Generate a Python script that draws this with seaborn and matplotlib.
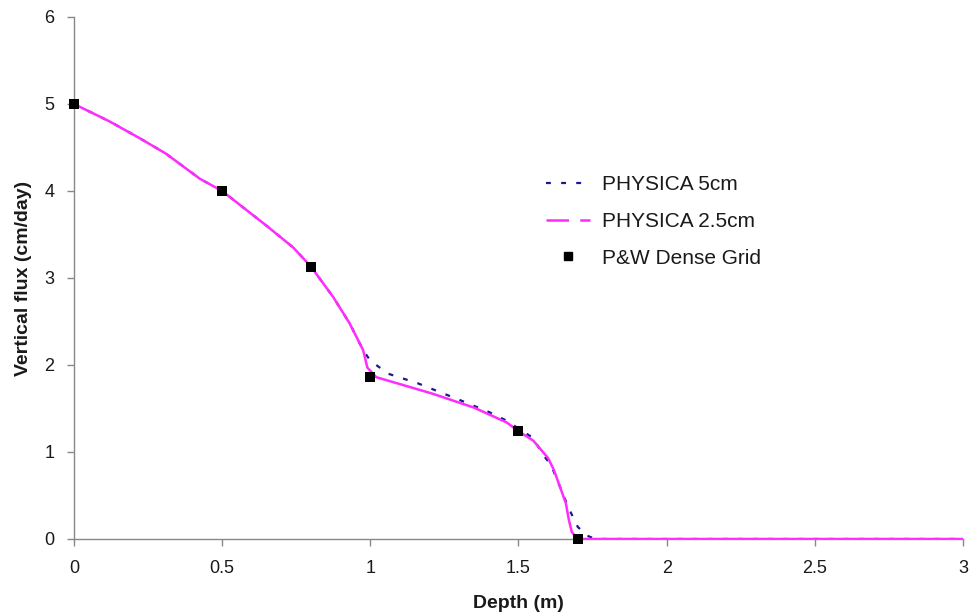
import matplotlib
matplotlib.use("Agg")
import matplotlib.pyplot as plt
from matplotlib.lines import Line2D
import seaborn as sns
import pandas as pd

sns.set_theme(style="white")
plt.rcParams['font.family'] = ['Liberation Sans', 'DejaVu Sans']

# PHYSICA, 2.5 cm grid
depth_25 = [0, 0.12, 0.22, 0.31, 0.425, 0.5, 0.65, 0.74, 0.8, 0.875, 0.93, 0.976,
            0.99, 1.02, 1.21, 1.35, 1.46, 1.5, 1.55, 1.6, 1.62, 1.64, 1.66, 1.67,
            1.68, 1.70, 1.75, 3.0]
flux_25 = [5.0, 4.80, 4.61, 4.43, 4.14, 4.0, 3.60, 3.35, 3.13, 2.78, 2.48, 2.17,
           1.97, 1.86, 1.67, 1.51, 1.34, 1.24, 1.13, 0.93, 0.79, 0.60, 0.41, 0.22,
           0.08, 0.0, 0.0, 0.0]

# PHYSICA, 5 cm grid
depth_5 = [0, 0.12, 0.22, 0.31, 0.425, 0.5, 0.65, 0.74, 0.8, 0.875, 0.93, 0.976,
           1.0, 1.06, 1.16, 1.30, 1.40, 1.46, 1.5, 1.55, 1.58, 1.61, 1.64, 1.67,
           1.70, 1.73, 1.76, 3.0]
flux_5 = [5.0, 4.80, 4.61, 4.43, 4.14, 4.0, 3.60, 3.35, 3.13, 2.78, 2.48, 2.17,
          2.05, 1.90, 1.79, 1.60, 1.46, 1.36, 1.27, 1.16, 0.98, 0.85, 0.60, 0.35,
          0.14, 0.04, 0.0, 0.0]

# P&W dense grid reference points
depth_pw = [0.0, 0.5, 0.8, 1.0, 1.5, 1.7]
flux_pw = [5.0, 4.0, 3.13, 1.86, 1.24, 0.0]

x_ticks = [0, 0.5, 1, 1.5, 2, 2.5, 3]
x_tick_labels = ["0", "0.5", "1", "1.5", "2", "2.5", "3"]
series_labels = ["PHYSICA 5cm", "PHYSICA 2.5cm", "P&W Dense Grid"]

df5 = pd.DataFrame({"depth": depth_5, "flux": flux_5})
df25 = pd.DataFrame({"depth": depth_25, "flux": flux_25})
dfpw = pd.DataFrame({"depth": depth_pw, "flux": flux_pw})

navy = "#1a1a8c"
magenta = "#ff2bff"
dot_style = (0, (2.2, 4.6))

fig, ax = plt.subplots(figsize=(9.73, 6.15), dpi=100)
fig.subplots_adjust(left=0.076, right=0.9897, top=0.9724, bottom=0.1236)

sns.lineplot(data=df5, x="depth", y="flux", ax=ax, color=navy,
             linestyle=dot_style, linewidth=1.6, sort=False, zorder=2)
sns.lineplot(data=df25, x="depth", y="flux", ax=ax, color=magenta,
             linestyle="-", linewidth=1.8, sort=False, zorder=3)
sns.scatterplot(data=dfpw, x="depth", y="flux", ax=ax, color="black",
                marker="s", s=55, edgecolor="black", linewidth=0,
                zorder=4, clip_on=False)

ax.set_xlim(0, 3)
ax.set_ylim(0, 6)
ax.set_xticks(x_ticks)
ax.set_xticklabels(x_tick_labels)
ax.set_yticks(range(0, 7))

for side in ("top", "right"):
    ax.spines[side].set_visible(False)
for side in ("left", "bottom"):
    ax.spines[side].set_color("#888888")
    ax.spines[side].set_linewidth(1.0)

ax.tick_params(axis="both", which="major", length=5, width=1, color="#888888",
               labelsize=13, labelcolor="#1a1a1a", direction="out",
               left=True, bottom=True)
ax.tick_params(axis="x", pad=10)
ax.tick_params(axis="y", pad=9)

ax.set_xlabel("Depth (m)", fontsize=14, fontweight="bold", labelpad=13,
              color="#1a1a1a")
ax.set_ylabel("Vertical flux (cm/day)", fontsize=14, fontweight="bold",
              labelpad=9, color="#1a1a1a")

# legend: dotted 5 cm, dashed 2.5 cm, square reference points
handles = [
    Line2D([], [], color=navy, linestyle=dot_style, linewidth=1.6),
    Line2D([], [], color=magenta, linestyle=(0, (9, 4.5)), linewidth=1.8),
    Line2D([], [], color="black", marker="s", linestyle="none", markersize=6),
]
ax.legend(handles, series_labels, loc="upper left",
          bbox_to_anchor=(0.51, 0.733), frameon=False, fontsize=15,
          handlelength=2.1, labelspacing=0.85, handletextpad=0.6,
          labelcolor="#1a1a1a")

fig.savefig("out.png", dpi=100)
